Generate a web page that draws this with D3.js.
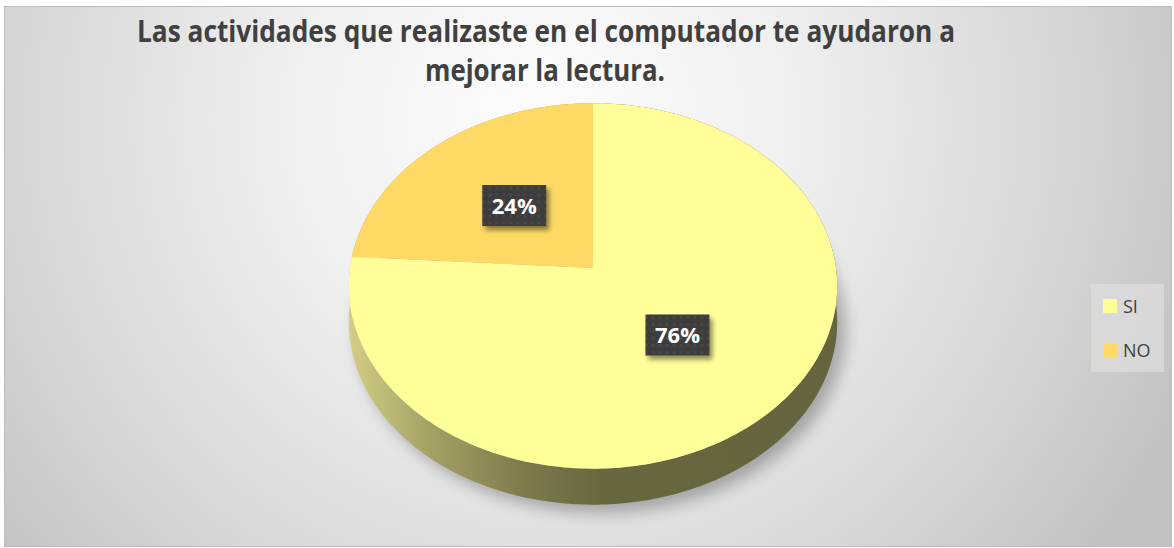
<!DOCTYPE html>
<html lang="es">
<head>
<meta charset="utf-8">
<title>Las actividades</title>
<script src="https://d3js.org/d3.v7.min.js"></script>
<style>
  html, body { margin: 0; padding: 0; background: #fff; }
  svg { display: block; }
  .title { font-family: "Liberation Sans Narrow", "Open Sans", sans-serif; font-weight: bold; fill: #404040; }
  .lbl { font-family: "Open Sans", "DejaVu Sans", sans-serif; font-weight: bold; fill: #fff; }
  .leg { font-family: "Open Sans", "Liberation Sans", sans-serif; fill: #404040; }
</style>
</head>
<body>
<div id="chart"></div>
<script>
// data
var categories = ["SI", "NO"];
var values = [76, 24];
var colors = ["#FFFF99", "#FFD966"];
var titleLines = ["Las actividades que realizaste en el computador te ayudaron a", "mejorar la lectura."];

var width = 1174, height = 548;
var svg = d3.select("#chart").append("svg")
    .attr("width", width)
    .attr("height", height);

var defs = svg.append("defs");

// chart background
var bg = defs.append("radialGradient").attr("id", "bg")
    .attr("gradientUnits", "userSpaceOnUse")
    .attr("cx", 540).attr("cy", 120).attr("r", 700);
bg.append("stop").attr("offset", 0).attr("stop-color", "#fdfdfd");
bg.append("stop").attr("offset", 0.35).attr("stop-color", "#f0f0f0");
bg.append("stop").attr("offset", 0.75).attr("stop-color", "#d6d6d6");
bg.append("stop").attr("offset", 1).attr("stop-color", "#c2c2c2");

// side wall shading
var wall = defs.append("linearGradient").attr("id", "wall")
    .attr("gradientUnits", "userSpaceOnUse")
    .attr("x1", 350).attr("x2", 840).attr("y1", 0).attr("y2", 0);
[[0, "#d2cd85"], [0.16, "#a5a265"], [0.36, "#7c7a4b"], [0.52, "#68673f"], [1, "#65643e"]]
  .forEach(function(s) { wall.append("stop").attr("offset", s[0]).attr("stop-color", s[1]); });

var blur = defs.append("filter").attr("id", "blur")
    .attr("x", "-20%").attr("y", "-20%").attr("width", "140%").attr("height", "140%");
blur.append("feGaussianBlur").attr("stdDeviation", 8);

var boxShadow = defs.append("filter").attr("id", "boxsh")
    .attr("x", "-30%").attr("y", "-30%").attr("width", "160%").attr("height", "170%");
boxShadow.append("feDropShadow").attr("dx", 3).attr("dy", 4).attr("stdDeviation", 2.5)
    .attr("flood-color", "#000").attr("flood-opacity", 0.45);

var dots = defs.append("pattern").attr("id", "dots")
    .attr("patternUnits", "userSpaceOnUse").attr("width", 7).attr("height", 7);
dots.append("rect").attr("width", 7).attr("height", 7).attr("fill", "#3d3d3d");
dots.append("circle").attr("cx", 3.5).attr("cy", 3.5).attr("r", 1.3).attr("fill", "#4b4b4b");

svg.append("rect").attr("width", width).attr("height", height).attr("fill", "#fff");
svg.append("rect")
    .attr("x", 4.5).attr("y", 6.5).attr("width", 1167).attr("height", 540)
    .attr("fill", "url(#bg)").attr("stroke", "#bcbcbc").attr("stroke-width", 1);

// title
svg.append("text").attr("class", "title")
    .attr("x", 546).attr("y", 42).attr("text-anchor", "middle")
    .attr("font-size", 30).attr("textLength", 818).attr("lengthAdjust", "spacingAndGlyphs")
    .text(titleLines[0]);
svg.append("text").attr("class", "title")
    .attr("x", 545).attr("y", 81).attr("text-anchor", "middle")
    .attr("font-size", 30).attr("textLength", 240).attr("lengthAdjust", "spacingAndGlyphs")
    .text(titleLines[1]);

// perspective pie: far side (top) smaller than near side (bottom)
var cx = 593, cy = 268, A = 243, B = 181, k = -0.098, depth = 36;
function proj(a, r, dz) {
  var u = r * Math.sin(a), v = -r * Math.cos(a), w = 1 + k * v;
  return [cx + A * u / w, cy + B * v / w + (dz || 0)];
}
function arcPts(a0, a1, dz) {
  var n = Math.max(2, Math.ceil(Math.abs(a1 - a0) * 60)), pts = [];
  for (var i = 0; i <= n; i++) pts.push(proj(a0 + (a1 - a0) * i / n, 1, dz));
  return pts;
}
var line = d3.line();

var arcs = d3.pie().sort(null).value(function(d) { return d; })(values);

// shadow
var shadowPts = arcPts(0, 2 * Math.PI, depth);
svg.append("path")
    .attr("d", line(shadowPts) + "Z")
    .attr("transform", "translate(8,8)")
    .attr("fill", "#000").attr("opacity", 0.28)
    .attr("filter", "url(#blur)");

var pie = svg.append("g");

// side walls
pie.selectAll("path.wall").data(arcs).enter().append("path")
    .attr("class", "wall")
    .attr("d", function(d) {
      var top = arcPts(d.startAngle, d.endAngle, 0);
      var bot = arcPts(d.startAngle, d.endAngle, depth).reverse();
      return line(top.concat(bot)) + "Z";
    })
    .attr("fill", function(d, i) { return i === 0 ? "url(#wall)" : "#b89a40"; });

// top faces
pie.selectAll("path.top").data(arcs).enter().append("path")
    .attr("class", "top")
    .attr("d", function(d) {
      return line([proj(0, 0)].concat(arcPts(d.startAngle, d.endAngle, 0))) + "Z";
    })
    .attr("fill", function(d, i) { return colors[i]; });

// data labels
var total = d3.sum(values);
var lbl = svg.selectAll("g.lbl").data(arcs).enter().append("g")
    .attr("transform", function(d) {
      var p = proj((d.startAngle + d.endAngle) / 2, 0.49);
      return "translate(" + p[0] + "," + p[1] + ")";
    });
lbl.append("rect")
    .attr("x", -32).attr("y", -20.5).attr("width", 64).attr("height", 41)
    .attr("fill", "url(#dots)").attr("filter", "url(#boxsh)");
lbl.append("text").attr("class", "lbl")
    .attr("text-anchor", "middle").attr("y", 8).attr("font-size", 22)
    .text(function(d) { return Math.round(d.value / total * 100) + "%"; });

// legend
var legend = svg.append("g").attr("transform", "translate(1091,284)");
legend.append("rect").attr("width", 73).attr("height", 88).attr("fill", "#dedede").attr("opacity", 0.7);
var items = legend.selectAll("g").data(categories).enter().append("g")
    .attr("transform", function(d, i) { return "translate(12," + (15 + i * 44) + ")"; });
items.append("rect").attr("width", 14).attr("height", 14)
    .attr("fill", function(d, i) { return colors[i]; });
items.append("text").attr("class", "leg")
    .attr("x", 20).attr("y", 14).attr("font-size", 18)
    .text(function(d) { return d; });
</script>
</body>
</html>
